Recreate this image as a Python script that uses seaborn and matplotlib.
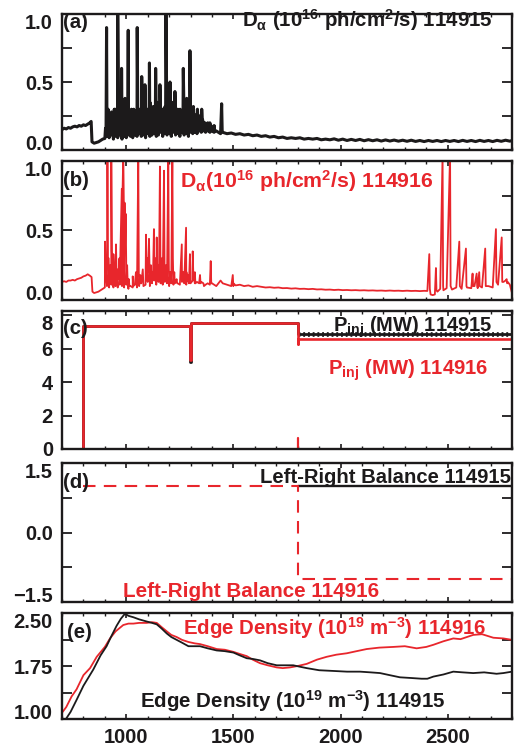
import numpy as np
import matplotlib
matplotlib.use("Agg")
import matplotlib.pyplot as plt
import seaborn as sns
from matplotlib import font_manager

# ---------------- data ----------------
# (a) D-alpha 114915 : baseline samples + ELM spikes
a_base_t = [700, 710, 720, 730, 740, 750, 760, 770, 780, 790, 800, 810, 820, 830, 836, 840, 850, 860, 870, 880, 890, 900,
            910, 920, 930, 940, 950, 960, 970, 980, 990, 1000, 1010, 1020, 1030, 1040, 1050, 1060, 1070, 1080, 1090, 1100,
            1110, 1120, 1130, 1140, 1150, 1160, 1170, 1180, 1190, 1200, 1210, 1220, 1230, 1240, 1250, 1260, 1270, 1280,
            1290, 1300, 1310, 1320, 1330, 1340, 1350, 1360, 1370, 1380, 1390, 1400, 1410, 1420, 1430, 1440, 1450,
            1470, 1490, 1510, 1530, 1550, 1570, 1590, 1610, 1630, 1650, 1670, 1690, 1710, 1730, 1750, 1770, 1790, 1810,
            1830, 1850, 1870, 1890, 1910, 1930, 1950, 1970, 1990, 2010, 2030, 2050, 2070, 2090, 2110, 2130, 2150, 2170,
            2190, 2210, 2230, 2250, 2270, 2290, 2310, 2330, 2350, 2370, 2390, 2410, 2430, 2450, 2470, 2490, 2510, 2530,
            2550, 2570, 2590, 2610, 2630, 2650, 2670, 2690, 2710, 2730, 2750, 2770, 2790, 2800]
a_base_v = [0.15, 0.16, 0.155, 0.165, 0.16, 0.17, 0.175, 0.17, 0.18, 0.175, 0.185, 0.18, 0.19, 0.2, 0.21, 0.06, 0.05, 0.055, 0.06, 0.07, 0.08, 0.085,
            0.1, 0.09, 0.11, 0.08, 0.1, 0.09, 0.11, 0.08, 0.1, 0.09, 0.11, 0.1, 0.09, 0.11, 0.1, 0.12, 0.1, 0.11, 0.09, 0.12,
            0.1, 0.11, 0.12, 0.1, 0.11, 0.13, 0.1, 0.12, 0.11, 0.12, 0.1, 0.13, 0.11, 0.12, 0.1, 0.13, 0.11, 0.12,
            0.1, 0.13, 0.12, 0.13, 0.12, 0.14, 0.13, 0.14, 0.13, 0.14, 0.13, 0.14, 0.13, 0.14, 0.13, 0.12, 0.13,
            0.12, 0.125, 0.115, 0.12, 0.11, 0.115, 0.105, 0.11, 0.1, 0.105, 0.095, 0.1, 0.09, 0.095, 0.085, 0.09, 0.085, 0.09,
            0.08, 0.085, 0.08, 0.085, 0.075, 0.08, 0.075, 0.082, 0.072, 0.08, 0.07, 0.078, 0.07, 0.078, 0.068, 0.076, 0.068, 0.075,
            0.066, 0.074, 0.066, 0.073, 0.065, 0.072, 0.064, 0.072, 0.063, 0.07, 0.062, 0.07, 0.063, 0.07, 0.062, 0.07, 0.063, 0.07,
            0.062, 0.071, 0.063, 0.07, 0.062, 0.071, 0.063, 0.07, 0.062, 0.071, 0.064, 0.072, 0.065, 0.07]
a_elm_t = [903, 908, 915, 924, 935, 948, 960, 966, 972, 978, 986, 994, 1002, 1009, 1020, 1028, 1035, 1043, 1051, 1060,
           1066, 1072, 1080, 1087, 1097, 1108, 1115, 1122, 1130, 1137, 1147, 1157, 1163, 1170, 1177, 1185, 1195, 1204, 1215, 1227,
           1234, 1240, 1248, 1256, 1266, 1274, 1282, 1290, 1297, 1305, 1313, 1322, 1332, 1342, 1352, 1362, 1375, 1390, 1445]
a_elm_peak = [0.16, 0.9, 0.3, 0.2, 0.25, 0.3, 1.05, 0.3, 0.25, 0.6, 0.35, 0.38, 0.25, 0.88, 0.28, 0.22, 0.3, 0.25, 0.9, 0.3,
              0.25, 0.54, 0.35, 0.48, 0.3, 0.64, 0.3, 0.28, 0.3, 0.6, 0.35, 0.48, 0.3, 0.3, 0.28, 1.05, 0.45, 0.5, 0.35, 0.43,
              0.3, 0.3, 0.25, 0.28, 0.6, 0.3, 0.38, 0.28, 0.73, 0.3, 0.32, 0.25, 0.3, 0.25, 0.3, 0.2, 0.18, 0.2, 0.34]
a_elm_tail = [0.12, 0.3, 0.2, 0.15, 0.18, 0.2, 0.35, 0.2, 0.18, 0.3, 0.22, 0.25, 0.18, 0.3, 0.2, 0.16, 0.22, 0.18, 0.3, 0.2,
              0.18, 0.3, 0.22, 0.3, 0.2, 0.35, 0.22, 0.2, 0.22, 0.3, 0.22, 0.28, 0.2, 0.22, 0.2, 0.5, 0.3, 0.3, 0.25, 0.28,
              0.22, 0.22, 0.2, 0.2, 0.35, 0.22, 0.25, 0.2, 0.35, 0.22, 0.25, 0.2, 0.22, 0.2, 0.22, 0.16, 0.15, 0.16, 0.14]
# small, dense bursts between the large ELMs of 114915
a_mini_t = [912, 919, 928, 931, 940, 944, 953, 956, 963, 969, 975, 982, 990, 998, 1005, 1013, 1017, 1024, 1031, 1039,
            1047, 1055, 1063, 1069, 1076, 1084, 1091, 1094, 1101, 1104, 1112, 1118, 1126, 1133, 1141, 1144, 1151, 1154, 1160, 1166,
            1173, 1181, 1189, 1192, 1199, 1208, 1211, 1219, 1223, 1231, 1237, 1244, 1251, 1259, 1262, 1270, 1278, 1286, 1293, 1301,
            1309, 1317, 1327, 1337, 1347, 1357, 1367, 1380, 1395, 1410]
a_mini_peak = [0.22, 0.25, 0.2, 0.28, 0.22, 0.3, 0.25, 0.2, 0.3, 0.26, 0.22, 0.3, 0.28, 0.24, 0.3, 0.26, 0.22, 0.3, 0.25, 0.28,
               0.24, 0.3, 0.26, 0.3, 0.28, 0.32, 0.26, 0.3, 0.28, 0.24, 0.3, 0.26, 0.32, 0.28, 0.3, 0.26, 0.32, 0.28, 0.3, 0.26,
               0.3, 0.32, 0.28, 0.34, 0.3, 0.28, 0.32, 0.3, 0.26, 0.3, 0.28, 0.26, 0.3, 0.28, 0.26, 0.3, 0.26, 0.28, 0.3, 0.26,
               0.28, 0.24, 0.26, 0.24, 0.25, 0.22, 0.2, 0.2, 0.18, 0.18]
a_mini_tail = [0.15, 0.17, 0.14, 0.18, 0.15, 0.2, 0.17, 0.15, 0.2, 0.18, 0.16, 0.2, 0.19, 0.17, 0.2, 0.18, 0.16, 0.2, 0.18, 0.19,
               0.17, 0.2, 0.18, 0.2, 0.19, 0.22, 0.18, 0.2, 0.19, 0.17, 0.2, 0.18, 0.22, 0.19, 0.2, 0.18, 0.22, 0.19, 0.2, 0.18,
               0.2, 0.22, 0.19, 0.23, 0.2, 0.19, 0.22, 0.2, 0.18, 0.2, 0.19, 0.18, 0.2, 0.19, 0.18, 0.2, 0.18, 0.19, 0.2, 0.18,
               0.19, 0.17, 0.18, 0.17, 0.17, 0.16, 0.15, 0.15, 0.14, 0.14]

# (b) D-alpha 114916
b_base_t = [700, 710, 720, 730, 740, 750, 760, 770, 780, 790, 800, 810, 820, 830, 838, 842, 850, 860, 870, 880, 890, 900,
            910, 920, 930, 940, 950, 960, 970, 980, 990, 1000, 1010, 1020, 1030, 1040, 1050, 1060, 1070, 1080, 1090, 1100,
            1110, 1120, 1130, 1140, 1150, 1160, 1170, 1180, 1190, 1200, 1210, 1220, 1230, 1240, 1250, 1260, 1270, 1280,
            1290, 1300, 1310, 1320, 1330, 1340, 1350, 1360, 1370, 1380, 1390, 1400, 1410, 1420, 1430, 1440, 1450,
            1470, 1490, 1500, 1510, 1530, 1550, 1570, 1590, 1610, 1630, 1650, 1670, 1690, 1710, 1730, 1750, 1770, 1790,
            1810, 1830, 1850, 1870, 1890, 1910, 1930, 1950, 1970, 1990, 2010, 2030, 2050, 2070, 2090, 2110, 2130, 2150,
            2170, 2190, 2210, 2230, 2250, 2270, 2290, 2310, 2330, 2350, 2370, 2390, 2405, 2420, 2430, 2440, 2452, 2465,
            2480, 2495, 2520, 2540, 2565, 2590, 2610, 2625, 2640, 2660, 2690, 2710, 2735, 2760, 2770, 2780, 2790, 2800]
b_base_v = [0.13, 0.135, 0.13, 0.14, 0.14, 0.145, 0.14, 0.15, 0.155, 0.16, 0.17, 0.175, 0.185, 0.175, 0.165, 0.06, 0.05, 0.055, 0.06, 0.07, 0.08, 0.09,
            0.1, 0.09, 0.11, 0.09, 0.1, 0.09, 0.11, 0.1, 0.09, 0.11, 0.08, 0.1, 0.09, 0.11, 0.09, 0.1, 0.12, 0.1, 0.11, 0.13,
            0.1, 0.12, 0.14, 0.11, 0.13, 0.12, 0.11, 0.13, 0.12, 0.1, 0.12, 0.11, 0.13, 0.12, 0.11, 0.13, 0.12, 0.11,
            0.13, 0.12, 0.14, 0.12, 0.13, 0.12, 0.13, 0.12, 0.11, 0.12, 0.11, 0.12, 0.11, 0.1, 0.12, 0.14, 0.12,
            0.11, 0.1, 0.12, 0.105, 0.11, 0.1, 0.105, 0.095, 0.1, 0.095, 0.09, 0.092, 0.088, 0.09, 0.085, 0.086, 0.082, 0.084,
            0.08, 0.081, 0.078, 0.08, 0.076, 0.077, 0.074, 0.075, 0.072, 0.074, 0.071, 0.072, 0.07, 0.071, 0.069, 0.07, 0.068, 0.069,
            0.067, 0.068, 0.066, 0.068, 0.066, 0.067, 0.065, 0.067, 0.065, 0.066, 0.064, 0.066, 0.065, 0.04, 0.035, 0.04, 0.06, 0.08,
            0.07, 0.085, 0.075, 0.09, 0.08, 0.09, 0.085, 0.1, 0.085, 0.09, 0.1, 0.09, 0.11, 0.13, 0.14, 0.13, 0.11, 0.05]
b_elm_t = [901, 905, 912, 918, 925, 930, 940, 946, 952, 960, 968, 979, 986, 992, 997, 1004, 1012, 1030, 1045, 1056,
           1065, 1077, 1092, 1100, 1106, 1115, 1122, 1129, 1136, 1142, 1150, 1157, 1166, 1176, 1185, 1196, 1205, 1215, 1224, 1235,
           1259, 1268, 1279, 1290, 1297, 1310, 1320, 1344, 1360, 1394, 1497, 2414, 2445, 2476, 2511, 2554, 2585, 2616, 2635, 2647,
           2675, 2725, 2752, 2775]
b_elm_peak = [0.42, 0.2, 1.05, 0.3, 0.25, 1.05, 0.33, 0.25, 0.4, 0.22, 0.3, 0.8, 1.05, 0.7, 0.62, 0.25, 0.15, 0.17, 0.2, 1.05,
              0.18, 0.22, 0.47, 0.3, 0.44, 0.25, 0.2, 0.51, 0.3, 0.45, 0.25, 0.96, 0.3, 0.93, 0.25, 1.05, 0.2, 1.05, 0.2, 0.15,
              0.4, 0.2, 0.52, 0.18, 0.33, 0.35, 0.2, 0.18, 0.12, 0.28, 0.18, 0.33, 0.23, 1.05, 1.05, 0.42, 0.37, 0.19, 0.19, 0.2,
              0.37, 0.51, 0.45, 0.15]
b_elm_tail = [0.2, 0.15, 0.3, 0.2, 0.18, 0.35, 0.2, 0.15, 0.2, 0.15, 0.2, 0.7, 0.7, 0.4, 0.3, 0.12, 0.1, 0.1, 0.12, 0.2,
              0.12, 0.13, 0.25, 0.2, 0.2, 0.15, 0.15, 0.2, 0.2, 0.2, 0.15, 0.3, 0.15, 0.25, 0.15, 0.25, 0.15, 0.3, 0.12, 0.12,
              0.2, 0.12, 0.2, 0.12, 0.2, 0.2, 0.12, 0.12, 0.1, 0.12, 0.1, 0.08, 0.07, 0.1, 0.1, 0.1, 0.1, 0.1, 0.1, 0.1,
              0.1, 0.13, 0.13, 0.12]

# (c) injected power (MW)
p15_t = [700, 800, 800, 1299, 1299, 1303, 1303, 1800, 1800, 2800]
p15_v = [0.0, 0.0, 7.36, 7.36, 5.22, 5.22, 7.56, 7.56, 6.9, 6.9]
p16_t = [700, 800, 800, 1299, 1299, 1303, 1303, 1800, 1800, 1802, 1802, 2800]
p16_v = [0.0, 0.0, 7.36, 7.36, 5.3, 5.3, 7.56, 7.56, 6.25, 6.25, 6.6, 6.6]
p16_glitch_t = [1800, 1800]
p16_glitch_v = [0.0, 0.65]

# (d) left-right balance
lr15_t = [1800, 2800]
lr15_v = [1.0, 1.0]
lr16_t = [800, 1800, 1800, 2800]
lr16_v = [1.0, 1.0, -1.0, -1.0]

# (e) edge density (1e19 m^-3)
ne15_t = [714, 740, 768, 800, 846, 880, 908, 930, 955, 975, 994, 1010, 1033, 1060, 1095, 1120, 1142, 1165, 1189, 1210,
          1235, 1260, 1290, 1320, 1344, 1380, 1422, 1460, 1500, 1530, 1562, 1590, 1624, 1660, 1702, 1740, 1779, 1810,
          1842, 1900, 1966, 2030, 2091, 2140, 2184, 2230, 2277, 2330, 2378, 2405, 2433, 2480, 2526, 2570, 2619, 2670,
          2728, 2760, 2800]
ne15_v = [0.98, 1.1, 1.27, 1.47, 1.7, 1.9, 2.03, 2.17, 2.32, 2.42, 2.49, 2.46, 2.44, 2.41, 2.38, 2.36, 2.34, 2.28, 2.21, 2.16,
          2.12, 2.08, 2.03, 2.03, 2.03, 2.0, 1.97, 1.96, 1.94, 1.9, 1.86, 1.85, 1.83, 1.79, 1.76, 1.76, 1.76, 1.74,
          1.72, 1.69, 1.68, 1.67, 1.67, 1.66, 1.65, 1.62, 1.59, 1.58, 1.57, 1.57, 1.6, 1.63, 1.67, 1.66, 1.65, 1.66,
          1.64, 1.65, 1.67]
ne16_t = [703, 720, 745, 768, 800, 831, 862, 900, 924, 950, 986, 1010, 1033, 1060, 1095, 1120, 1142, 1165, 1189, 1210,
          1235, 1260, 1290, 1320, 1344, 1380, 1422, 1460, 1500, 1530, 1562, 1590, 1624, 1660, 1702, 1730, 1764, 1800,
          1842, 1890, 1935, 1980, 2029, 2075, 2122, 2180, 2246, 2300, 2355, 2400, 2433, 2480, 2526, 2560, 2619, 2660,
          2713, 2760, 2800]
ne16_v = [1.1, 1.17, 1.32, 1.42, 1.62, 1.72, 1.88, 2.02, 2.14, 2.24, 2.33, 2.35, 2.35, 2.36, 2.36, 2.37, 2.36, 2.3, 2.24, 2.19,
          2.16, 2.12, 2.09, 2.07, 2.06, 2.03, 1.99, 1.98, 1.95, 1.92, 1.89, 1.84, 1.79, 1.76, 1.73, 1.72, 1.73, 1.75,
          1.78, 1.84, 1.88, 1.91, 1.93, 1.96, 1.99, 2.01, 2.02, 2.03, 2.0, 2.02, 2.05, 2.1, 2.14, 2.13, 2.19, 2.2,
          2.15, 2.14, 2.12]

x_major = [1000, 1500, 2000, 2500]
x_labels = ["1000", "1500", "2000", "2500"]

# ---------------- style ----------------
W, H = 518, 749
RED = "#E8262C"
BLK = "#1c1a1b"
sns.set_theme(style="ticks")
names = {f.name for f in font_manager.fontManager.ttflist}
FAM = "Liberation Sans" if "Liberation Sans" in names else "DejaVu Sans"
plt.rcParams["font.family"] = [FAM, "DejaVu Sans"]
plt.rcParams["font.weight"] = "bold"
plt.rcParams["mathtext.fontset"] = "custom"
plt.rcParams["mathtext.rm"] = FAM + ":bold"
plt.rcParams["mathtext.it"] = FAM + ":bold"
plt.rcParams["mathtext.bf"] = FAM + ":bold"
plt.rcParams["mathtext.sf"] = FAM
plt.rcParams["mathtext.default"] = "rm"
plt.rcParams["axes.unicode_minus"] = True

fig = plt.figure(figsize=(W / 100, H / 100), dpi=100)
fig.patch.set_facecolor("white")


def px_axes(top, bottom, left=62, right=512):
    return fig.add_axes([left / W, 1 - bottom / H, (right - left) / W, (bottom - top) / H])


def merge(base_t, base_v, groups):
    t = list(base_t)
    v = list(base_v)
    for et, ep, etl in groups:
        t += list(et) + [x + 2.5 for x in et]
        v += list(ep) + list(etl)
    t = np.array(t, dtype=float)
    v = np.array(v, dtype=float)
    order = np.argsort(t, kind="stable")
    return t[order], v[order]


def style_axis(ax, ylim, yticks, ylabels, valign, bottom_labels=False):
    ax.set_xlim(700, 2800)
    ax.set_ylim(*ylim)
    ax.set_xticks(x_major)
    ax.set_xticks(list(range(700, 2801, 100)), minor=True)
    ax.set_xticklabels(x_labels if bottom_labels else [])
    ax.set_yticks(yticks)
    ax.set_yticklabels(ylabels)
    ax.tick_params(axis="both", which="both", direction="in", top=True, right=True,
                   labelsize=14.5, colors=BLK)
    ax.tick_params(axis="y", which="major", length=7.5, width=1.3, pad=6.5)
    ax.tick_params(axis="x", which="major", length=3.5, width=1.2, pad=6.5)
    ax.tick_params(axis="x", which="minor", length=2.5, width=1.0)
    ax.set_xlabel("")
    ax.set_ylabel("")
    for s in ax.spines.values():
        s.set_linewidth(1.7)
        s.set_color(BLK)
    for lab, va in zip(ax.get_yticklabels(), valign):
        lab.set_verticalalignment(va)
        lab.set_fontweight("bold")
    for lab in ax.get_xticklabels():
        lab.set_fontweight("bold")


# (a)
ax_a = px_axes(14, 150)
ta, va_ = merge(a_base_t, a_base_v, [(a_elm_t, a_elm_peak, a_elm_tail), (a_mini_t, a_mini_peak, a_mini_tail)])
sns.lineplot(x=ta, y=va_, ax=ax_a, color=BLK, lw=2.2, estimator=None, sort=False)
style_axis(ax_a, (0, 1), [0, 0.25, 0.5, 0.75, 1.0], ["0.0", "", "0.5", "", "1.0"],
           ["baseline", "center", "center_baseline", "center", "top"])

# (b)
ax_b = px_axes(161, 300)
tb, vb_ = merge(b_base_t, b_base_v, [(b_elm_t, b_elm_peak, b_elm_tail)])
sns.lineplot(x=tb, y=vb_, ax=ax_b, color=RED, lw=1.3, estimator=None, sort=False)
style_axis(ax_b, (0, 1), [0, 0.25, 0.5, 0.75, 1.0], ["0.0", "", "0.5", "", "1.0"],
           ["baseline", "center", "center_baseline", "center", "top"])

# (c)
ax_c = px_axes(311, 449)
sns.lineplot(x=p15_t, y=p15_v, ax=ax_c, color=BLK, lw=2.0, estimator=None, sort=False)
sns.lineplot(x=p15_t[-2:], y=p15_v[-2:], ax=ax_c, color=BLK, lw=3.4, linestyle=(0, (0.4, 0.6)),
             estimator=None, sort=False)
sns.lineplot(x=p16_t, y=p16_v, ax=ax_c, color=RED, lw=1.9, estimator=None, sort=False)
sns.lineplot(x=p16_glitch_t, y=p16_glitch_v, ax=ax_c, color=RED, lw=1.6, estimator=None, sort=False)
style_axis(ax_c, (0, 8.25), [0, 2, 4, 6, 8], ["0", "2", "4", "6", "8"],
           ["center_baseline", "center_baseline", "center_baseline", "center_baseline", "top"])

# (d)
ax_d = px_axes(463, 602)
sns.lineplot(x=lr15_t, y=lr15_v, ax=ax_d, color=BLK, lw=1.7, estimator=None, sort=False)
sns.lineplot(x=lr16_t, y=lr16_v, ax=ax_d, color=RED, lw=1.5, linestyle=(0, (6, 4)),
             estimator=None, sort=False)
style_axis(ax_d, (-1.5, 1.5), [-1.5, -0.75, 0, 0.75, 1.5], ["\u22121.5", "", "0.0", "", "1.5"],
           ["baseline", "center", "center_baseline", "center", "top"])

# (e)
ax_e = px_axes(613, 719)
sns.lineplot(x=ne16_t, y=ne16_v, ax=ax_e, color=RED, lw=1.3, estimator=None, sort=False)
sns.lineplot(x=ne15_t, y=ne15_v, ax=ax_e, color=BLK, lw=1.3, estimator=None, sort=False)
style_axis(ax_e, (1.0, 2.5), [1.0, 1.375, 1.75, 2.125, 2.5], ["1.00", "", "1.75", "", "2.50"],
           ["baseline", "center", "center_baseline", "center", "top"], bottom_labels=True)

# ---------------- annotations ----------------
renderer = fig.canvas.get_renderer()


def put(s, x0, x1, yb, color, fs=14.7):
    t = fig.text(x0 / W, 1 - yb / H, s, color=color, fontsize=fs, fontweight="bold",
                 ha="left", va="baseline")
    if x1 is not None:
        bb = t.get_window_extent(renderer)
        if bb.width > 0:
            t.set_fontsize(fs * (x1 - x0) / bb.width)
    return t


for lbl, yb in [("(a)", 28), ("(b)", 186), ("(c)", 334), ("(d)", 488), ("(e)", 638)]:
    put(lbl, 63.5 if lbl != "(e)" else 67, None, yb, BLK, 14.7)

put(r"D$_{\mathsf{\alpha}}$ (10$^{16}$ ph/cm$^{2}$/s) 114915", 242, 492, 27, BLK)
put(r"D$_{\mathsf{\alpha}}$(10$^{16}$ ph/cm$^{2}$/s) 114916", 180, 434, 188, RED)
put(r"P$_{\mathrm{inj}}$ (MW) 114915", 333, 492, 332, BLK)
put(r"P$_{\mathrm{inj}}$ (MW) 114916", 328, 488, 375, RED)
put("Left-Right Balance 114915", 260, 511, 483, BLK)
put("Left-Right Balance 114916", 123, 378, 597, RED)
put(r"Edge Density (10$^{19}$ m$^{-3}$) 114916", 183, 485, 635, RED)
put(r"Edge Density (10$^{19}$ m$^{-3}$) 114915", 140, 445, 708, BLK)

fig.savefig("out.png", dpi=100, facecolor="white")
